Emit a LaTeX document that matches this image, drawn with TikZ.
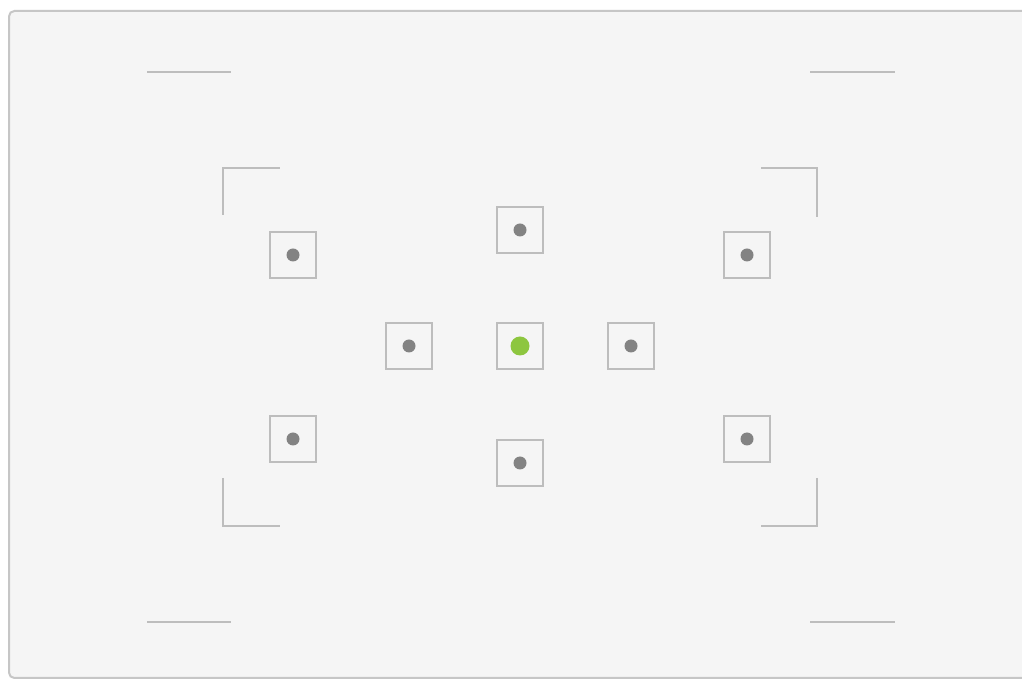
\documentclass[tikz,border=0pt]{standalone}
\usepackage{tikz}
\usetikzlibrary{positioning}
\definecolor{panel}{HTML}{F5F5F5}
\definecolor{rim}{HTML}{C6C6C6}
\definecolor{mark}{HTML}{BDBDBD}
\definecolor{dotgrey}{HTML}{838383}
\definecolor{active}{HTML}{8DC63F}

\begin{document}
\begin{tikzpicture}[x=0.75pt, y=-0.75pt, node distance=83.25pt]
    \tikzstyle{af} = [rectangle, draw=mark, line width=1.4pt, fill=panel, minimum size=35pt, inner sep=0pt]
    \tikzstyle{guide} = [draw=mark, line width=1.4pt]
    \tikzstyle{pt} = [fill=dotgrey]

    \useasboundingbox (0,0) rectangle (1022,680);
    \fill [white] (0,0) rectangle (1022,680);
    \clip (0,0) rectangle (1022,680);
    \draw [draw=rim, fill=panel, line width=1.5pt, rounded corners=4] (9,11) rectangle (1040,678);

    % frame marks
    \draw [guide] (147,72) -- (231,72);
    \draw [guide] (810,72) -- (895,72);
    \draw [guide] (147,622) -- (231,622);
    \draw [guide] (810,622) -- (895,622);

    % corner brackets
    \draw [guide] (223,215) -- (223,168) -- (280,168);
    \draw [guide] (761,168) -- (817,168) -- (817,217);
    \draw [guide] (223,478) -- (223,526) -- (280,526);
    \draw [guide] (817,478) -- (817,526) -- (761,526);

    % focus points
    \node [af] (centre) at (520,346) {};
    \node [af, left of=centre] (midleft) {};
    \node [af, right of=centre] (midright) {};
    \node [af] (top) at (520,230) {};
    \node [af] (bottom) at (520,463) {};
    \node [af] (topleft) at (293,255) {};
    \node [af] (topright) at (747,255) {};
    \node [af] (bottomleft) at (293,439) {};
    \node [af] (bottomright) at (747,439) {};

    \foreach \p in {midleft, midright, top, bottom, topleft, topright, bottomleft, bottomright}
        \fill [pt] (\p.center) circle (6.5);
    \fill [active] (centre.center) circle (9.5);
\end{tikzpicture}
\end{document}
